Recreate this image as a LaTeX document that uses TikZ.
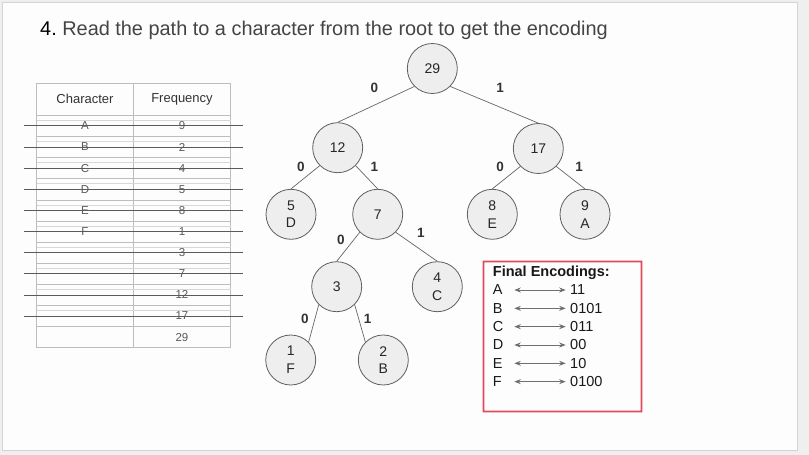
\documentclass[tikz,border=0pt]{standalone}
\usepackage{fontspec}
\setmainfont{Liberation Sans}
\usetikzlibrary{arrows.meta}
\definecolor{bgout}{HTML}{EFEFEF}
\definecolor{slideframe}{HTML}{D3D3D8}
\definecolor{slide}{HTML}{FDFDFD}
\definecolor{nodefill}{HTML}{EEEEEE}
\definecolor{nodeline}{HTML}{5F5F5F}
\definecolor{edgecol}{HTML}{666666}
\definecolor{labcol}{HTML}{333333}
\definecolor{titlegray}{HTML}{444444}
\definecolor{grid}{HTML}{BDBDBD}
\definecolor{strike}{HTML}{5A5A5A}
\definecolor{celltext}{HTML}{595959}
\definecolor{boxred}{RGB}{226,72,92}
\definecolor{arrowgray}{HTML}{6F6F6F}
\begin{document}
\begin{tikzpicture}[x=1pt,y=-1pt,
  circ/.style={circle,draw=nodeline,fill=nodefill,line width=0.8pt,minimum size=50pt,inner sep=0pt,
    font=\fontsize{14}{17.7}\selectfont,text=black!85,align=center},
  edge/.style={draw=edgecol,line width=0.7pt},
  bit/.style={font=\fontsize{13.5}{16}\selectfont\bfseries,text=labcol,inner sep=0pt},
  gridline/.style={draw=grid,line width=0.6pt},
  gridfaint/.style={draw=grid!60,line width=0.5pt},
  strikeline/.style={draw=strike,line width=0.8pt},
  headtext/.style={font=\fontsize{13}{15}\selectfont,text=labcol,inner sep=0pt},
  celltxt/.style={font=\fontsize{11.5}{13}\selectfont,text=celltext,inner sep=0pt},
  enctext/.style={font=\fontsize{14.5}{17}\selectfont,text=black!90,inner sep=0pt,anchor=west},
  encarrow/.style={draw=arrowgray,line width=0.9pt,{Stealth[length=6.5pt,width=5pt]}-{Stealth[length=6.5pt,width=5pt]}}
]
% background and slide frame
\fill[bgout] (0,0) rectangle (809,455);
\filldraw[fill=slide,draw=slideframe,line width=0.8pt] (2.5,2.5) rectangle (797,450.5);
\useasboundingbox (0,0) rectangle (809,455);

% title
\node[anchor=base west,inner sep=0pt,font=\fontsize{19.9}{22}\selectfont] (title) at (40,35.5)
  {\textcolor{black}{4.}\ \textcolor{titlegray}{Read the path to a character from the root to get the encoding}};

% ---------- table ----------
\def\tl{36.7}\def\tm{133}\def\tr{230.7}
\def\ttop{83}\def\thead{115.3}\def\rh{21.13}
\draw[gridline] (\tl,\ttop) rectangle (\tr,347.7);
\draw[gridline] (\tm,\ttop) -- (\tm,347.7);
\draw[gridline] (\tl,\thead) -- (\tr,\thead);
\foreach \i in {1,...,10}{
  \draw[gridline] (\tl,{\thead+\i*\rh}) -- (\tr,{\thead+\i*\rh});
}
\foreach \i in {0,...,9}{
  \draw[gridfaint] (\tl,{\thead+\i*\rh+5}) -- (\tr,{\thead+\i*\rh+5});
}
\node[headtext] (hchar) at (85,99) {Character};
\node[headtext] (hfreq) at (182,99) {Frequency};
\foreach \c [count=\i from 0] in {A,B,C,D,E,F}{
  \node[celltxt] (ch\i) at (85,{\thead+(\i+0.5)*\rh}) {\c};
}
\foreach \f [count=\i from 0] in {9,2,4,5,8,1,3,7,12,17,29}{
  \node[celltxt] (fr\i) at (182,{\thead+(\i+0.5)*\rh}) {\f};
}
\foreach \i in {0,...,9}{
  \draw[strikeline] (24,{\thead+(\i+0.5)*\rh}) -- (243,{\thead+(\i+0.5)*\rh});
}

% ---------- tree ----------
\node[circ] (n29) at (432.3,68.5) {29};
\node[circ] (n12) at (337.7,147.7) {12};
\node[circ] (n17) at (538.3,148.5) {17};
\node[circ] (n5) at (291,214.3) {5\\D};
\node[circ] (n7) at (377.7,214.3) {7};
\node[circ] (n8) at (492.3,214.3) {8\\E};
\node[circ] (n9) at (585,214.3) {9\\A};
\node[circ] (n3) at (336.7,286.7) {3};
\node[circ] (n4) at (437.3,286.7) {4\\C};
\node[circ] (n1) at (290.7,360) {1\\F};
\node[circ] (n2) at (383.3,360) {2\\B};

\draw[edge] (n29.-135) -- (n12.north);
\draw[edge] (n29.-45) -- (n17.north);
\draw[edge] (n12.-135) -- (n5.north);
\draw[edge] (n12.-45) -- (n7.north);
\draw[edge] (n17.-135) -- (n8.north);
\draw[edge] (n17.-45) -- (n9.north);
\draw[edge] (n7.-135) -- (n3.north);
\draw[edge] (n7.-45) -- (n4.north);
\draw[edge] (n3.-135) -- (n1.45);
\draw[edge] (n3.-45) -- (n2.135);

\node[bit] (b29l) at (374.3,87.7) {0};
\node[bit] (b29r) at (500,87.7) {1};
\node[bit] (b12l) at (301,167.3) {0};
\node[bit] (b12r) at (374.3,167.3) {1};
\node[bit] (b17l) at (500,167.3) {0};
\node[bit] (b17r) at (579,167) {1};
\node[bit] (b7l) at (341,240) {0};
\node[bit] (b7r) at (421,233.3) {1};
\node[bit] (b3l) at (305,319.3) {0};
\node[bit] (b3r) at (367.7,319.3) {1};

% ---------- final encodings ----------
\fill[boxred,even odd rule] (482.6,260.6) rectangle (642.4,412.4) (484.4,262.4) rectangle (640.6,410.6);
\node[anchor=west,inner sep=0pt,font=\fontsize{14.5}{17}\selectfont\bfseries,text=black!90] (enctitle) at (492.7,272.3) {Final Encodings:};
\foreach \c/\code [count=\i from 0] in {A/11,B/0101,C/011,D/00,E/10,F/0100}{
  \node[enctext] (el\i) at (492.7,{290+\i*18.33}) {\c};
  \node[enctext] (ec\i) at (570,{290+\i*18.33}) {\code};
  \coordinate (al\i) at (514.3,{290+\i*18.33});
  \coordinate (ar\i) at (565.7,{290+\i*18.33});
  \draw[encarrow] (al\i) -- (ar\i);
}
\end{tikzpicture}
\end{document}
